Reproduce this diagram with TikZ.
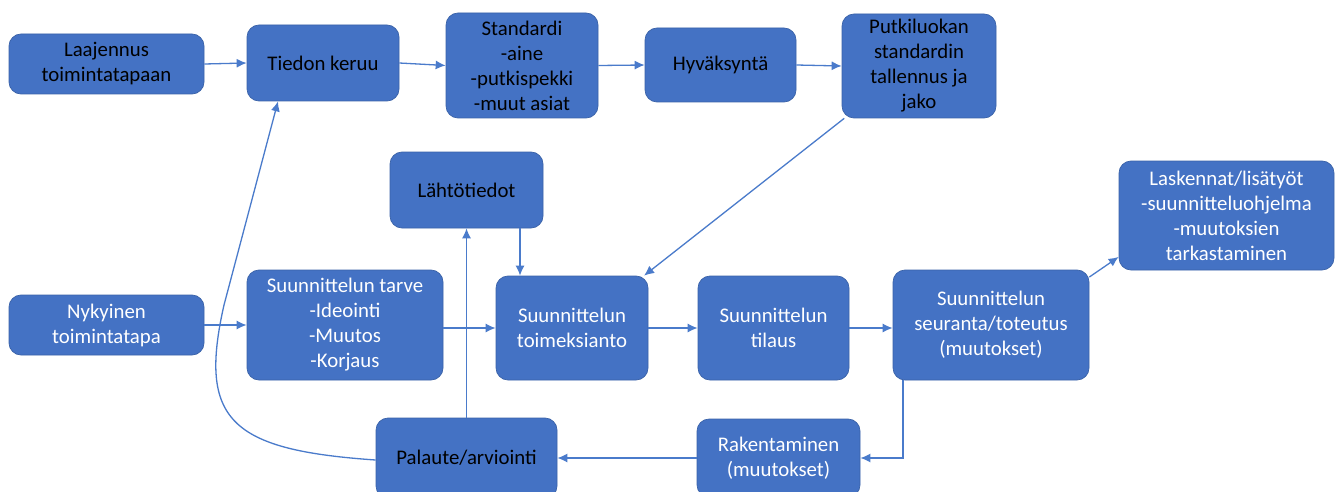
\documentclass[tikz,border=0pt]{standalone}
\usepackage{fontspec}
\setmainfont{Carlito}
\usetikzlibrary{arrows.meta,calc}
\definecolor{boxblue}{HTML}{4472C4}
\definecolor{boxedge}{HTML}{3A62A8}
\definecolor{linkblue}{HTML}{4A7BCB}
\begin{document}
\begin{tikzpicture}[x=1pt,y=-1pt,
  box/.style={draw=boxedge, line width=0.7pt, fill=boxblue, rounded corners=12pt,
    align=center, inner sep=2pt, font=\fontsize{20.8}{25}\selectfont},
  dark/.style={box, text=black},
  light/.style={box, text=white},
  arr/.style={draw=linkblue, line width=1.3pt, -{Latex[length=10pt,width=9pt]}},
]
\useasboundingbox (0,0) rectangle (1335,492);
\fill[white] (0,0) rectangle (1335,492);

% top row
\node[dark, minimum width=195pt, minimum height=60pt] (laaj) at (106.5,64) {Laajennus\\toimintatapaan};
\node[dark, minimum width=152pt, minimum height=76pt] (tiedon) at (323,63) {Tiedon keruu};
\node[dark, minimum width=152pt, minimum height=105pt] (std) at (522,65.5) {Standardi\\-aine\\-putkispekki\\-muut asiat};
\node[dark, minimum width=151pt, minimum height=74pt] (hyv) at (720.5,65) {Hyväksyntä};
\node[dark, minimum width=154pt, minimum height=104pt] (putki) at (919,66) {Putkiluokan\\standardin\\tallennus ja\\jako};

% middle
\node[dark, minimum width=153pt, minimum height=76pt] (laht) at (466.5,190) {Lähtötiedot};
\node[light, minimum width=215pt, minimum height=109pt] (lask) at (1226.5,215.5) {Laskennat/lisätyöt\\-suunnitteluohjelma\\-muutoksien\\tarkastaminen};

% lower row
\node[light, minimum width=195pt, minimum height=60pt] (nyky) at (106.5,325) {Nykyinen\\toimintatapa};
\node[light, minimum width=196pt, minimum height=110pt] (tarve) at (345,325) {Suunnittelun tarve\\-Ideointi\\-Muutos\\-Korjaus};
\node[light, minimum width=152pt, minimum height=104pt] (toim) at (572,328) {Suunnittelun\\toimeksianto};
\node[light, minimum width=151pt, minimum height=104pt] (tilaus) at (773.5,328) {Suunnittelun\\tilaus};
\node[light, minimum width=196pt, minimum height=110pt] (seur) at (991,325) {Suunnittelun\\seuranta/toteutus\\(muutokset)};

% bottom row
\node[light, minimum width=163pt, minimum height=78pt] (rak) at (778.5,458) {Rakentaminen\\(muutokset)};
\node[dark, minimum width=181pt, minimum height=80pt] (pal) at (466.5,458) {Palaute/arviointi};

% connectors
\draw[arr] (laaj.east) -- (tiedon.west);
\draw[arr] (tiedon.east) -- (std.west);
\draw[arr] (std.east) -- (hyv.west);
\draw[arr] (hyv.east) -- (putki.west);
\draw[arr] (putki.215) -- (toim.36);
\coordinate (lx) at (520,0);
\draw[arr] (lx |- laht.south) -- (lx |- toim.north);
\draw[arr] (pal.north) -- (laht.south);
\draw[arr] (nyky.east) -- (tarve.west);
\draw[arr] (toim.west -| tarve.east) -- (toim.west);
\draw[arr] (toim.east) -- (tilaus.west);
\draw[arr] (tilaus.east) -- (tilaus.east -| seur.west);
\draw[arr] (seur.26) -- (lask.201);
\draw[arr] ([xshift=-88pt]seur.south) |- (rak.east);
\draw[arr] (rak.west) -- (pal.east);
\draw[arr] ([yshift=-2pt]pal.west) .. controls (230,450) and (198,420) .. (224,305) -- ([xshift=-45pt]tiedon.south);
\end{tikzpicture}
\end{document}
